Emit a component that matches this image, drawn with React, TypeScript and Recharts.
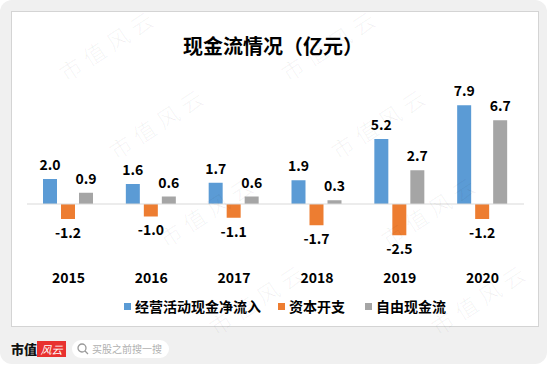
import React from 'react';
import { BarChart, Bar, XAxis, YAxis, ReferenceLine, LabelList } from 'recharts';

const years = ['2015', '2016', '2017', '2018', '2019', '2020'];
const operatingInflow = [2.0, 1.6, 1.7, 1.9, 5.2, 7.9];
const capitalExpenditure = [-1.2, -1.0, -1.1, -1.7, -2.5, -1.2];
const freeCashFlow = [0.9, 0.6, 0.6, 0.3, 2.7, 6.7];

const seriesKeys = ['inflow', 'capex', 'fcf'];
const seriesNames = ['经营活动现金净流入', '资本开支', '自由现金流'];
const seriesColors = ['#5B9BD5', '#ED7D31', '#A5A5A5'];

const FONT = "'Noto Sans CJK SC', 'Microsoft YaHei', sans-serif";

const data = years.map((year, i) => ({
  year,
  inflow: operatingInflow[i],
  capex: capitalExpenditure[i],
  fcf: freeCashFlow[i],
}));

// watermark tiles (decoration only), kept inside the frame
const marks: { x: number; y: number }[] = [];
for (let r = 0; r <= 3; r++) {
  for (let k = -1; k <= 2; k++) {
    const x = 110 + 50 * r + 222 * k;
    const y = r === 0 ? 47 : 37 + 88 * r;
    if (x > 58 && x < 492 && y < 322) marks.push({ x, y });
  }
}

const YearTick = ({ x, y, payload }: { x?: number; y?: number; payload?: { value: string } }) => (
  <text x={x} y={y} dy={21} textAnchor="middle" fontSize={14} fontWeight={700} fill="#000" fontFamily={FONT}>
    {payload?.value}
  </text>
);

export default function App() {
  return (
    <div style={{ position: 'absolute', left: 0, top: 0, width: 550, height: 367, background: '#fff', fontFamily: FONT }}>
      <div style={{ position: 'absolute', left: 0, top: 0, width: 547, height: 364, background: '#f0f0f0', borderRadius: 12 }} />

      <div style={{ position: 'absolute', left: 11, top: 11, width: 526, height: 314, background: '#fff', border: '1px solid #d4d4d4' }}>
        <div style={{ position: 'absolute', left: 0, top: 21, width: 522, textAlign: 'center', fontSize: 20, fontWeight: 700, color: '#000', lineHeight: '26px' }}>
          现金流情况（亿元）
        </div>

        <BarChart
          width={527}
          height={315}
          data={data}
          margin={{ top: 68, right: 14, bottom: 42, left: 16 }}
          barSize={14}
          barGap={4}
          style={{ position: 'absolute', left: -1, top: -1 }}
        >
          <XAxis dataKey="year" axisLine={false} tickLine={false} tick={<YearTick />} interval={0} />
          <YAxis hide domain={[-4, 10]} />
          <ReferenceLine y={0} stroke="#d9d9d9" strokeWidth={1} />
          {seriesKeys.map((key, i) => (
            <Bar key={key} dataKey={key} name={seriesNames[i]} fill={seriesColors[i]} isAnimationActive={false}>
              <LabelList
                dataKey={key}
                position="top"
                offset={9}
                formatter={(v: number) => v.toFixed(1)}
                style={{ fontSize: 14, fontWeight: 700, fill: '#000', fontFamily: FONT }}
              />
            </Bar>
          ))}
        </BarChart>

        <div style={{ position: 'absolute', left: 112, top: 284, display: 'flex', alignItems: 'center', fontSize: 14, fontWeight: 700, color: '#000' }}>
          {seriesNames.map((name, i) => (
            <div key={name} style={{ display: 'flex', alignItems: 'center', marginRight: i === 0 ? 17 : 20 }}>
              <span style={{ width: 7, height: 7, background: seriesColors[i], marginRight: 4, display: 'inline-block' }} />
              <span>{name}</span>
            </div>
          ))}
        </div>
      </div>

      {/* footer */}
      <div style={{ position: 'absolute', left: 11, top: 340, fontSize: 13, fontWeight: 900, color: '#111', lineHeight: '18px' }}>市值</div>
      <div style={{ position: 'absolute', left: 37, top: 341, width: 29, height: 16, background: '#e8312f', color: '#fff', fontSize: 11, fontStyle: 'italic', lineHeight: '16px', textAlign: 'center' }}>风云</div>
      <div style={{ position: 'absolute', left: 72, top: 340, width: 97, height: 18, background: '#fff', borderRadius: 9 }}>
        <svg width={12} height={12} style={{ position: 'absolute', left: 5, top: 3 }}>
          <circle cx={5} cy={5} r={4} fill="none" stroke="#999" strokeWidth={1.3} />
          <line x1={8} y1={8} x2={11} y2={11} stroke="#999" strokeWidth={1.3} />
        </svg>
        <span style={{ position: 'absolute', left: 20, top: 0, fontSize: 10, lineHeight: '18px', color: '#b0b0b0' }}>买股之前搜一搜</span>
      </div>

      <svg width={550} height={367} style={{ position: 'absolute', left: 0, top: 0, pointerEvents: 'none' }}>
        {marks.map((m, i) => (
          <text
            key={i}
            x={m.x}
            y={m.y}
            textAnchor="middle"
            dominantBaseline="middle"
            fontSize={22}
            letterSpacing={6}
            fontWeight={300}
            fill="rgba(0,0,0,0.06)"
            transform={`rotate(-33 ${m.x} ${m.y})`}
            fontFamily={FONT}
          >
            市值风云
          </text>
        ))}
      </svg>
    </div>
  );
}
